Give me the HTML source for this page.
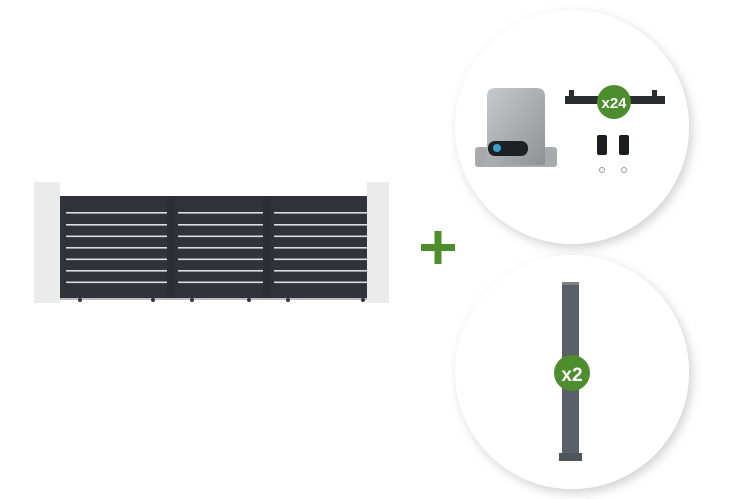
<html><head><style>body{margin:0;width:750px;height:499px;background:#fff;overflow:hidden;position:relative;font-family:"Liberation Sans",sans-serif}</style></head><body>
<svg width="750" height="499" style="position:absolute;left:0;top:0">
<defs>
<filter id="sh" x="-20%" y="-20%" width="140%" height="140%"><feDropShadow dx="3" dy="4" stdDeviation="5" flood-color="#000" flood-opacity="0.18"/></filter>
<linearGradient id="mg" x1="0" y1="0" x2="1" y2="1"><stop offset="0" stop-color="#c8c9cb"/><stop offset="1" stop-color="#8f9195"/></linearGradient>
</defs>
<!-- gate -->
<rect x="34" y="182" width="26" height="121" fill="#ebebeb"/>
<rect x="367" y="182" width="22" height="121" fill="#ebebeb"/>
<rect x="60" y="196" width="307" height="102" fill="#30343a"/>
<rect x="167" y="196" width="8" height="102" fill="#2a2d33"/>
<rect x="263" y="196" width="8" height="102" fill="#2a2d33"/>
<g fill="#dcdde0">
<rect x="66" y="212" width="101" height="1.6"/><rect x="178" y="212" width="85" height="1.6"/><rect x="274" y="212" width="93" height="1.6"/>
<rect x="66" y="224" width="101" height="1.6"/><rect x="178" y="224" width="85" height="1.6"/><rect x="274" y="224" width="93" height="1.6"/>
<rect x="66" y="235.5" width="101" height="1.6"/><rect x="178" y="235.5" width="85" height="1.6"/><rect x="274" y="235.5" width="93" height="1.6"/>
<rect x="66" y="247" width="101" height="1.6"/><rect x="178" y="247" width="85" height="1.6"/><rect x="274" y="247" width="93" height="1.6"/>
<rect x="66" y="258.5" width="101" height="1.6"/><rect x="178" y="258.5" width="85" height="1.6"/><rect x="274" y="258.5" width="93" height="1.6"/>
<rect x="66" y="270" width="101" height="1.6"/><rect x="178" y="270" width="85" height="1.6"/><rect x="274" y="270" width="93" height="1.6"/>
<rect x="66" y="281.5" width="101" height="1.6"/><rect x="178" y="281.5" width="85" height="1.6"/><rect x="274" y="281.5" width="93" height="1.6"/>
</g>
<rect x="60" y="298" width="307" height="2" fill="#bbb"/>
<g fill="#30343a"><circle cx="80" cy="300" r="2"/><circle cx="153" cy="300" r="2"/><circle cx="192" cy="300" r="2"/><circle cx="249" cy="300" r="2"/><circle cx="288" cy="300" r="2"/><circle cx="363" cy="300" r="2"/></g>
<!-- plus -->
<rect x="421" y="244" width="34" height="7" fill="#4e8d2e"/>
<rect x="434.5" y="231" width="7" height="33" fill="#4e8d2e"/>
<!-- circles -->
<circle cx="572" cy="127" r="117" fill="#fff" filter="url(#sh)"/>
<circle cx="572" cy="372" r="117" fill="#fff" filter="url(#sh)"/>
<!-- motor -->
<rect x="475" y="147" width="82" height="20" rx="3" fill="#a8aaad"/>
<path d="M487 165 L487 96 Q487 88 496 88 L536 88 Q545 88 545 96 L545 165 Z" fill="url(#mg)"/>
<rect x="488" y="141" width="40" height="15" rx="7" fill="#1e2024"/>
<circle cx="497" cy="148" r="4" fill="#3aa0c8"/>
<!-- rack -->
<rect x="565" y="96" width="100" height="8" fill="#2b2c2e"/>
<rect x="569" y="90" width="5" height="8" fill="#2b2c2e"/><rect x="652" y="90" width="5" height="8" fill="#2b2c2e"/>
<circle cx="614" cy="102" r="17" fill="#4e8d2e"/>
<text x="614" y="108" font-size="15" font-weight="bold" fill="#fff" text-anchor="middle">x24</text>
<!-- remotes -->
<rect x="597" y="135" width="10" height="20" rx="2" fill="#1c1d20"/>
<rect x="619" y="135" width="10" height="20" rx="2" fill="#1c1d20"/>
<circle cx="602" cy="170" r="2.5" fill="none" stroke="#999"/><circle cx="624" cy="170" r="2.5" fill="none" stroke="#999"/>
<!-- post -->
<rect x="562" y="282" width="17" height="178" fill="#5b5f67"/>
<rect x="562" y="282" width="17" height="3" fill="#7b8088"/>
<rect x="559" y="453" width="23" height="8" fill="#50545b"/>
<circle cx="572" cy="373" r="18" fill="#4e8d2e"/>
<text x="572" y="381" font-size="19" font-weight="bold" fill="#fff" text-anchor="middle">x2</text>
</svg>
</body></html>
